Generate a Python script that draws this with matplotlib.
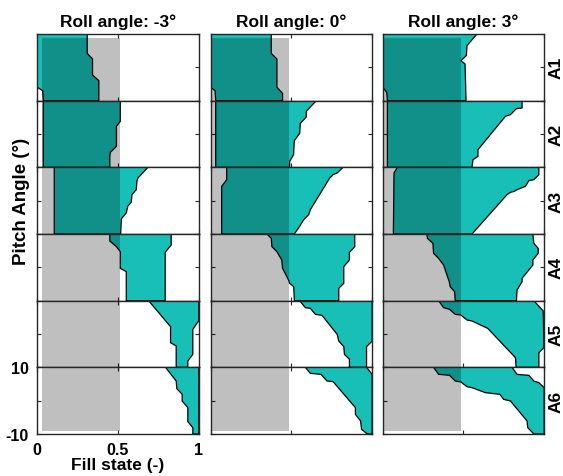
import numpy as np
import matplotlib
matplotlib.use('Agg')
import matplotlib.pyplot as plt
from matplotlib.patches import Rectangle

plt.rcParams['font.family'] = ['Liberation Sans', 'DejaVu Sans']
plt.rcParams['font.weight'] = 'bold'

roll_titles = ['Roll angle: -3°', 'Roll angle: 0°', 'Roll angle: 3°']
row_labels = ['A1', 'A2', 'A3', 'A4', 'A5', 'A6']

# (pitch, fill state) points of the right edge of the filled band, top to bottom
right_m3 = [
    [(10, 0.309), (4.2, 0.309), (2.5, 0.342), (-2.3, 0.342), (-4, 0.381), (-10, 0.381)],
    [(10, 0.514), (3.8, 0.514), (2.3, 0.49), (-3.7, 0.49), (-5.5, 0.453), (-6.7, 0.449), (-10, 0.449)],
    [(10, 0.685), (6.8, 0.623), (5.8, 0.617), (3.3, 0.613), (1.8, 0.586), (-0.4, 0.582),
     (-1.7, 0.56), (-3.7, 0.551), (-5.4, 0.521), (-10, 0.516)],
    [(10, 0.829), (6.7, 0.829), (4.5, 0.792), (-10, 0.792)],
    [(10, 1.0), (4, 1.0), (1.4, 0.963), (-6.1, 0.963), (-8.1, 0.932), (-10, 0.932)],
    [(10, 1.0), (-10, 1.0)],
]
left_m3 = [
    [(10, 0.0), (-6, 0.0), (-7, 0.033), (-10, 0.037)],
    [(10, 0.037), (-10, 0.037)],
    [(10, 0.105), (-10, 0.105)],
    [(10, 0.449), (7.9, 0.449), (6.2, 0.49), (4.7, 0.514), (-0.3, 0.514), (-1.3, 0.551), (-10, 0.551)],
    [(10, 0.689), (2.2, 0.825), (-2.6, 0.825), (-3.6, 0.86), (-10, 0.86)],
    [(10, 0.794), (5.9, 0.86), (3.6, 0.864), (1.9, 0.897), (-0.1, 0.897), (-2.1, 0.932),
     (-6.3, 0.932), (-8.1, 0.963), (-10, 0.963)],
]

right_0 = [
    [(10, 0.375), (4.2, 0.375), (2.5, 0.41), (-6, 0.41), (-7.8, 0.445), (-10, 0.445)],
    [(10, 0.654), (6.8, 0.592), (5.1, 0.592), (3.2, 0.555), (0.2, 0.551), (-2, 0.518),
     (-6.2, 0.513), (-8.2, 0.489), (-10, 0.489)],
    [(10, 0.82), (8.3, 0.783), (7.8, 0.758), (6.8, 0.737), (-2.7, 0.617), (-4.2, 0.607),
     (-5.7, 0.576), (-7.7, 0.551), (-10, 0.518)],
    [(10, 0.892), (6.2, 0.892), (4.5, 0.859), (2.2, 0.859), (0.2, 0.824), (-4.8, 0.824),
     (-6.3, 0.793), (-10, 0.793)],
    [(10, 1.0), (-2.1, 1.0), (-3.8, 0.965), (-10, 0.965)],
    [(10, 0.965), (7.9, 1.0), (-10, 1.0)],
]
left_0 = [
    [(10, 0.0), (-6, 0.0), (-7, 0.027), (-10, 0.031)],
    [(10, 0.031), (-10, 0.031)],
    [(10, 0.099), (6.3, 0.099), (4.3, 0.068), (-10, 0.068)],
    [(10, 0.348), (8.7, 0.375), (6.2, 0.379), (4.7, 0.41), (2.2, 0.44), (-0.3, 0.445),
     (-3.8, 0.482), (-4.8, 0.489), (-5.8, 0.514), (-10, 0.518)],
    [(10, 0.551), (7.9, 0.586), (7.7, 0.617), (5.9, 0.648), (5.6, 0.689), (-0.1, 0.783),
     (-2.1, 0.793), (-3.8, 0.824), (-6.1, 0.828), (-7.6, 0.859), (-10, 0.859)],
    [(10, 0.586), (8.2, 0.617), (7.9, 0.683), (5.9, 0.72), (5.7, 0.758), (-2.1, 0.896),
     (-4.1, 0.896), (-6.1, 0.928), (-8.6, 0.934), (-9.8, 0.965), (-10, 0.965)],
]

right_p3 = [
    [(10, 0.584), (6.5, 0.522), (3.5, 0.518), (2, 0.484), (1, 0.51), (-10, 0.516)],
    [(10, 0.863), (7.8, 0.863), (7.6, 0.828), (5.8, 0.791), (5.3, 0.76), (-4.7, 0.59),
     (-6.7, 0.59), (-7.7, 0.559), (-10, 0.553)],
    [(10, 0.967), (7.8, 0.967), (6.3, 0.936), (6, 0.905), (4.3, 0.884), (3.3, 0.832),
     (2.8, 0.815), (2.5, 0.791), (1.8, 0.77), (-10, 0.553)],
    [(10, 0.93), (7.2, 0.936), (5.7, 0.963), (4.2, 0.963), (2.2, 0.93), (0.7, 0.93),
     (-3.3, 0.863), (-4.3, 0.863), (-6.8, 0.832), (-10, 0.828)],
    [(10, 0.936), (6.9, 0.994), (-4.1, 0.998), (-5.6, 0.967), (-10, 0.967)],
    [(10, 0.801), (7.9, 0.832), (7.6, 0.905), (5.9, 0.936), (5.4, 0.967), (3.9, 1.0), (-10, 1.0)],
]
left_p3 = [
    [(10, 0.0), (-6, 0.0), (-7.5, 0.025), (-10, 0.029)],
    [(10, 0.029), (-10, 0.029)],
    [(10, 0.091), (8.3, 0.07), (-10, 0.066)],
    [(10, 0.273), (8.7, 0.277), (7.2, 0.311), (4.2, 0.315), (2.7, 0.346), (0.7, 0.377),
     (-4.3, 0.412), (-5.8, 0.418), (-7.3, 0.445), (-10, 0.449)],
    [(10, 0.346), (7.9, 0.377), (7.4, 0.414), (5.9, 0.449), (5.7, 0.484), (4.2, 0.522),
     (3.9, 0.553), (1.7, 0.65), (1.4, 0.656), (-7.1, 0.822), (-10, 0.826)],
    [(10, 0.315), (7.9, 0.346), (7.6, 0.414), (5.9, 0.449), (5.6, 0.484), (4.2, 0.522),
     (3.9, 0.553), (2.4, 0.636), (1.9, 0.725), (0.4, 0.749), (-0.1, 0.791), (-6.1, 0.894),
     (-8.1, 0.898), (-9.8, 0.932), (-10, 0.932)],
]

# reference (grey) fill state range per roll angle
grey_lo = [0.029, 0.008, 0.004]
grey_hi = [0.514, 0.487, 0.487]
grey_top = 8.8     # in top panel
grey_bottom = -9.0  # in bottom panel

rights = [right_m3, right_0, right_p3]
lefts = [left_m3, left_0, left_p3]

teal = '#18BFB7'
W, H = 563, 477
col_x = [37.3, 210.7, 382.7]
col_w = 161.5
top = 35.0
ph = 400.0 / 6

fig = plt.figure(figsize=(W / 100, H / 100), dpi=100)

for c in range(3):
    for r in range(6):
        y0 = top + (r + 1) * ph
        ax = fig.add_axes([col_x[c] / W, 1 - y0 / H, col_w / W, ph / H])
        rp = np.array(rights[c][r])
        lp = np.array(lefts[c][r])[::-1]
        poly = np.vstack([rp, lp])
        ax.fill(poly[:, 1], poly[:, 0], facecolor=teal, edgecolor='k', linewidth=0.9, zorder=2)
        ylo = grey_bottom if r == 5 else -10
        yhi = grey_top if r == 0 else 10
        ax.add_patch(Rectangle((grey_lo[c], ylo), grey_hi[c] - grey_lo[c], yhi - ylo,
                               facecolor='k', alpha=0.25, linewidth=0, zorder=3))
        ax.set_xlim(0, 1)
        ax.set_ylim(-10, 10)
        ax.set_xticks([0, 0.5, 1])
        ax.set_yticks([-10, 0, 10])
        ax.tick_params(direction='in', top=True, right=True, length=3, width=0.8,
                       color='#262626', labelsize=11.5, pad=6,
                       labelbottom=(c == 0 and r == 5), labelleft=(c == 0 and r == 5))
        if c == 0 and r == 5:
            ax.set_xticklabels(['0', '0.5', '1'], fontweight='bold')
            ax.set_yticklabels(['-10', '', '10'], fontweight='bold')
            ax.set_xlabel('Fill state (-)', fontsize=12.5, fontweight='bold', labelpad=0)
        for s in ax.spines.values():
            s.set_color('#262626')
            s.set_linewidth(1.0)
            s.set_zorder(5)
        if r == 0:
            ax.set_title(roll_titles[c], fontsize=12.5, fontweight='bold', pad=6)
        if c == 2:
            ax.text(1.075, 0.5, row_labels[r], transform=ax.transAxes, rotation=90,
                    ha='center', va='center', fontsize=12.5, fontweight='bold')
        if c == 0 and r == 2:
            ax.set_ylabel('Pitch Angle (°)', fontsize=13.5, fontweight='bold', labelpad=5)

fig.savefig('out.png', dpi=100)
